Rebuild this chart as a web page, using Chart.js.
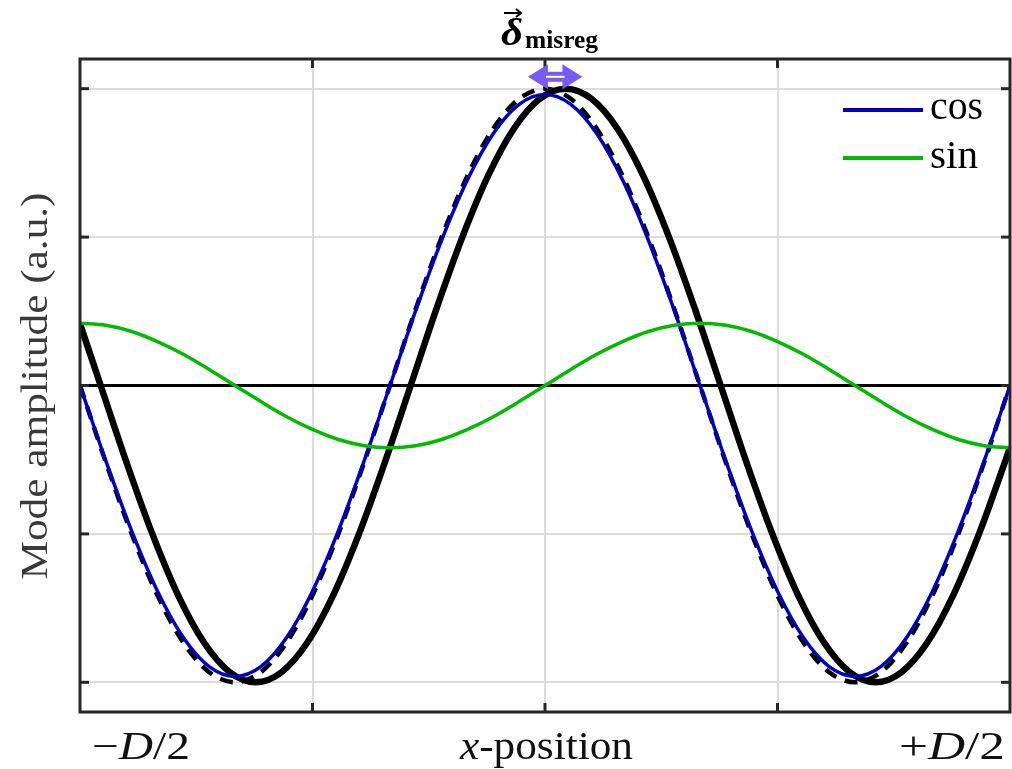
<!DOCTYPE html>
<html><head><meta charset="utf-8">
<script src="https://cdn.jsdelivr.net/npm/chart.js@4"></script>
<style>html,body{margin:0;padding:0;background:#fff}#wrap{width:1012px;height:769px;position:relative}</style>
</head><body><div id="wrap"><canvas id="c"></canvas></div>
<script>
// x position in units where -D/2 = -18 and +D/2 = +18
const xGrid = [-18,-17,-16,-15,-14,-13,-12,-11,-10,-9,-8,-7,-6,-5,-4,-3,-2,-1,0,1,2,3,4,5,6,7,8,9,10,11,12,13,14,15,16,17,18];
// blue "cos" mode
const cosFit = [0,-0.254,-0.49,-0.693,-0.849,-0.947,-0.98,-0.947,-0.849,-0.693,-0.49,-0.254,0,0.254,0.49,0.693,0.849,0.947,0.98,0.947,0.849,0.693,0.49,0.254,0,-0.254,-0.49,-0.693,-0.849,-0.947,-0.98,-0.947,-0.849,-0.693,-0.49,-0.254,0];
// dashed black reference
const cosRef = [0,-0.259,-0.5,-0.707,-0.866,-0.966,-1,-0.966,-0.866,-0.707,-0.5,-0.259,0,0.259,0.5,0.707,0.866,0.966,1,0.966,0.866,0.707,0.5,0.259,0,-0.259,-0.5,-0.707,-0.866,-0.966,-1,-0.966,-0.866,-0.707,-0.5,-0.259,0];
// green "sin" mode
const sinFit = [0.21,0.203,0.182,0.148,0.105,0.054,0,-0.054,-0.105,-0.148,-0.182,-0.203,-0.21,-0.203,-0.182,-0.148,-0.105,-0.054,0,0.054,0.105,0.148,0.182,0.203,0.21,0.203,0.182,0.148,0.105,0.054,0,-0.054,-0.105,-0.148,-0.182,-0.203,-0.21];
// thick black misregistered profile
const xShift = [-18,-17.2,-16.2,-15.2,-14.2,-13.2,-12.2,-11.2,-10.2,-9.2,-8.2,-7.2,-6.2,-5.2,-4.2,-3.2,-2.2,-1.2,-0.2,0.8,1.8,2.8,3.8,4.8,5.8,6.8,7.8,8.8,9.8,10.8,11.8,12.8,13.8,14.8,15.8,16.8,17.8,18];
const cosShift = [0.208,0,-0.259,-0.5,-0.707,-0.866,-0.966,-1,-0.966,-0.866,-0.707,-0.5,-0.259,0,0.259,0.5,0.707,0.866,0.966,1,0.966,0.866,0.707,0.5,0.259,0,-0.259,-0.5,-0.707,-0.866,-0.966,-1,-0.966,-0.866,-0.707,-0.5,-0.259,-0.208];

const xTicks = [-18,-9,0,9,18];
const yTicks = [-1,-0.5,0,0.5,1];
const legendLabels = ['cos','sin'];
const yTitle = 'Mode amplitude (a.u.)';
const arrowFrom = -0.66, arrowTo = 1.45, arrowY = 1.04;

const zip = (xs, ys) => xs.map((x,i)=>({x, y: ys[i]}));
const BLUE = '#0000c0', GREEN = '#00bb00', FRAME = '#262626';
const SERIF = '"Liberation Serif"';

// draw text runs scaled horizontally to a target width
function fitRuns(ctx, parts, left, base, targetW) {
  let w = 0;
  parts.forEach(([t, f]) => { ctx.font = f; w += ctx.measureText(t).width; });
  const sx = targetW / w;
  ctx.save();
  ctx.translate(left, base);
  ctx.scale(sx, 1);
  let cx = 0;
  parts.forEach(([t, f]) => { ctx.font = f; ctx.fillText(t, cx, 0); cx += ctx.measureText(t).width; });
  ctx.restore();
}

const decor = {
  id: 'decor',
  afterDraw(chart) {
    const {ctx, chartArea: a, scales: {x, y}} = chart;
    ctx.save();
    // tick marks inward
    ctx.strokeStyle = FRAME; ctx.lineWidth = 3;
    xTicks.slice(1,-1).forEach(v => {
      const px = x.getPixelForValue(v);
      ctx.beginPath(); ctx.moveTo(px, a.top); ctx.lineTo(px, a.top + 9); ctx.stroke();
      ctx.beginPath(); ctx.moveTo(px, a.bottom); ctx.lineTo(px, a.bottom - 9); ctx.stroke();
    });
    yTicks.forEach(v => {
      const py = y.getPixelForValue(v);
      ctx.beginPath(); ctx.moveTo(a.left, py); ctx.lineTo(a.left + 9, py); ctx.stroke();
      ctx.beginPath(); ctx.moveTo(a.right, py); ctx.lineTo(a.right - 9, py); ctx.stroke();
    });
    // frame
    ctx.strokeRect(a.left, a.top, a.right - a.left, a.bottom - a.top);

    // legend
    ctx.textBaseline = 'alphabetic'; ctx.textAlign = 'left';
    const legItems = [{c: BLUE, t: legendLabels[0], y: 110, base: 119, w: 53}, {c: GREEN, t: legendLabels[1], y: 158, base: 168, w: 48}];
    legItems.forEach(it => {
      ctx.strokeStyle = it.c; ctx.lineWidth = 4;
      ctx.beginPath(); ctx.moveTo(843, it.y); ctx.lineTo(923, it.y); ctx.stroke();
      ctx.fillStyle = '#000';
      fitRuns(ctx, [[it.t, '40px ' + SERIF]], 930, it.base, it.w);
    });

    // x labels
    ctx.fillStyle = '#111';
    const R = '39px ' + SERIF, I = 'italic 39px ' + SERIF;
    fitRuns(ctx, [['\u2212', R], ['D', I], ['/2', R]], 92, 759, 98);
    fitRuns(ctx, [['x', I], ['-position', R]], 460, 759, 173);
    fitRuns(ctx, [['+', R], ['D', I], ['/2', R]], 899, 759, 106);

    // y title
    ctx.save();
    ctx.translate(47, (a.top + a.bottom) / 2);
    ctx.rotate(-Math.PI / 2);
    ctx.fillStyle = '#3a3a3a';
    fitRuns(ctx, [[yTitle, '37px ' + SERIF]], -194, 0, 387);
    ctx.restore();

    // title delta_misreg
    ctx.fillStyle = '#000';
    fitRuns(ctx, [['\u03B4', 'bold italic 38px ' + SERIF]], 501, 45, 22);
    fitRuns(ctx, [['misreg', 'bold 26px ' + SERIF]], 525, 48, 73);
    ctx.strokeStyle = '#000'; ctx.lineWidth = 2;
    ctx.beginPath(); ctx.moveTo(504, 13); ctx.lineTo(521, 13); ctx.stroke();
    ctx.beginPath(); ctx.moveTo(516, 9); ctx.lineTo(521, 13); ctx.lineTo(516, 17); ctx.stroke();

    // purple double arrow
    const x1 = x.getPixelForValue(arrowFrom), x2 = x.getPixelForValue(arrowTo);
    const ay = y.getPixelForValue(arrowY);
    const hl = 20, hh = 12.5;
    ctx.fillStyle = '#7a5af5';
    ctx.beginPath(); ctx.moveTo(x1, ay); ctx.lineTo(x1 + hl, ay - hh); ctx.lineTo(x1 + hl, ay + hh); ctx.closePath(); ctx.fill();
    ctx.beginPath(); ctx.moveTo(x2, ay); ctx.lineTo(x2 - hl, ay - hh); ctx.lineTo(x2 - hl, ay + hh); ctx.closePath(); ctx.fill();
    ctx.fillRect(x1 + hl - 1, ay - 5, x2 - x1 - 2 * hl + 2, 10);
    ctx.fillStyle = '#fff';
    ctx.fillRect(x1 + hl - 2, ay - 1, x2 - x1 - 2 * hl + 4, 2);
    ctx.restore();
  }
};

new Chart(document.getElementById('c'), {
  type: 'line',
  data: {
    datasets: [
      {label: 'cos', data: zip(xGrid, cosFit), borderColor: BLUE, borderWidth: 3.5, order: 1},
      {label: 'sin', data: zip(xGrid, sinFit), borderColor: GREEN, borderWidth: 3.5, order: 0},
      {label: 'ref', data: zip(xGrid, cosRef), borderColor: '#000', borderWidth: 4.5, borderDash: [13, 9], order: 2},
      {label: 'shift', data: zip(xShift, cosShift), borderColor: '#000', borderWidth: 6.5, order: 3}
    ]
  },
  options: {
    responsive: true, maintainAspectRatio: false, animation: false,
    devicePixelRatio: 1,
    layout: {padding: {left: 80, top: 59, right: 2, bottom: 57}},
    elements: {point: {radius: 0}, line: {tension: 0.33, cubicInterpolationMode: 'default', fill: false}},
    plugins: {legend: {display: false}, tooltip: {enabled: false}, title: {display: false}},
    scales: {
      x: {
        type: 'linear', min: -18, max: 18,
        ticks: {display: false},
        afterBuildTicks: s => { s.ticks = xTicks.map(v => ({value: v})); },
        grid: {color: '#dcdcdc', lineWidth: 2, drawTicks: false},
        border: {display: false},
        afterFit: s => { s.height = 0; }
      },
      y: {
        type: 'linear', min: -1.1, max: 1.1,
        ticks: {display: false},
        afterBuildTicks: s => { s.ticks = yTicks.map(v => ({value: v})); },
        grid: {
          color: c => c.tick && c.tick.value === 0 ? '#000' : '#dcdcdc',
          lineWidth: c => c.tick && c.tick.value === 0 ? 3 : 2,
          drawTicks: false
        },
        border: {display: false},
        afterFit: s => { s.width = 0; }
      }
    }
  },
  plugins: [decor]
});
</script>
</body></html>
